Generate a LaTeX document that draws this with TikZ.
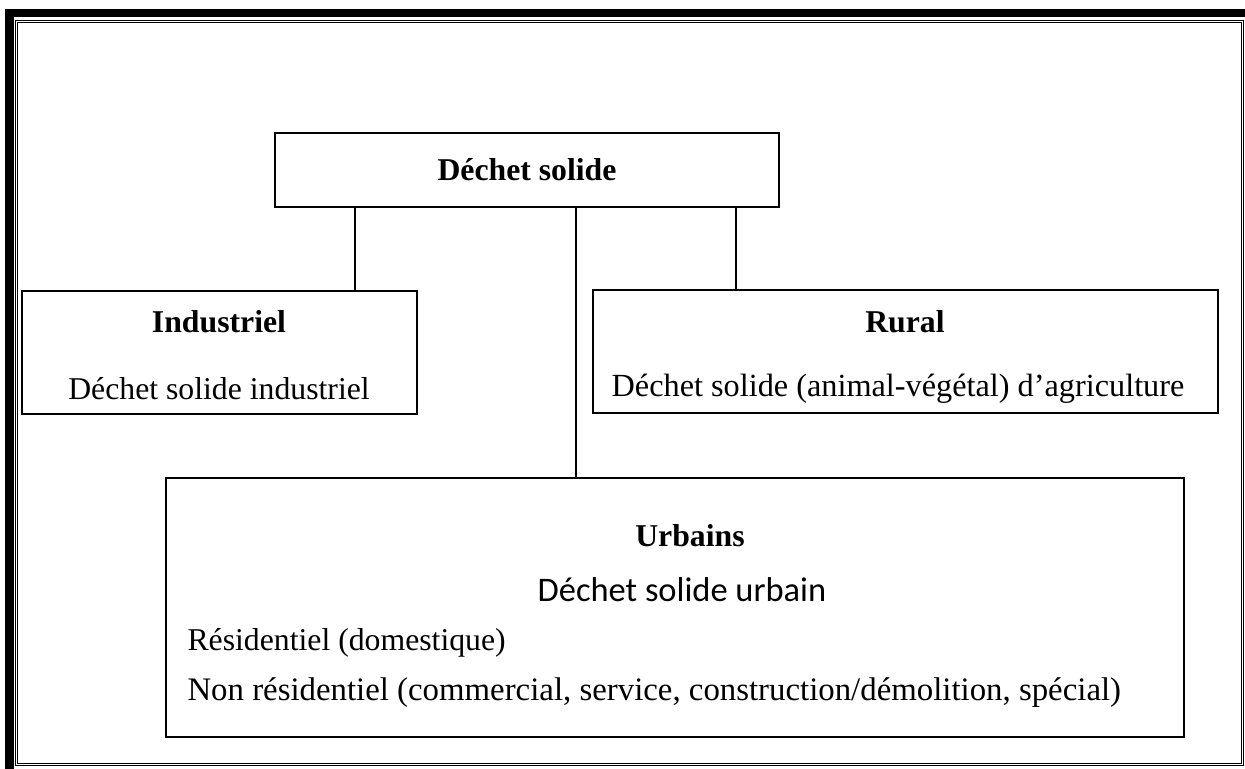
\documentclass[tikz,border=0pt]{standalone}
\usepackage{fontspec}
\setmainfont{Liberation Serif}
\newfontfamily\calib{Carlito}
\tikzset{
  box/.style={draw, line width=0.6pt, inner sep=0pt},
  txt/.style={inner sep=0pt, font=\fontsize{11.6}{14}\selectfont}
}

\begin{document}
\begin{tikzpicture}[x=0.01285cm, y=-0.01285cm]

\useasboundingbox (0,0) rectangle (1245,769);

% page frame
\fill (5,9) rectangle (14,769);
\fill (5,9) rectangle (1245,17);
\draw[line width=0.4pt, double, double distance=0.45pt] (16.5,21.7) rectangle (1242.5,764.5);

% boxes
\node[box, minimum width=6.476cm, minimum height=0.951cm] (ds) at (527,170) {};
\node[box, minimum width=5.076cm, minimum height=1.581cm] (ind) at (219.5,352.5) {};
\node[box, minimum width=8.031cm, minimum height=1.581cm] (rur) at (905.5,351.5) {};
\node[box, minimum width=13.081cm, minimum height=3.328cm] (urb) at (675,607.5) {};

% texts
\node[txt] (ds1) at (527,170) {\textbf{Déchet solide}};
\node[txt] (ind1) at (219,322) {\textbf{Industriel}};
\node[txt] (ind2) at (219,389) {Déchet solide industriel};
\node[txt] (rur1) at (905,322) {\textbf{Rural}};
\node[txt, font=\fontsize{11.8}{14}\selectfont] (rur2) at (898,389) {Déchet solide (animal-végétal) d’agriculture};
\node[txt] (urb1) at (690,536) {\textbf{Urbains}};
\node[txt, font=\fontsize{12.6}{14}\calib] (urb2) at (682,590) {Déchet solide urbain};
\node[txt, anchor=west] (urb3) at (187,643) {Résidentiel (domestique)};
\node[txt, anchor=west, font=\fontsize{12}{14}\selectfont] (urb4) at (187,693) {Non résidentiel (commercial, service, construction/démolition, spécial)};

% connectors
\coordinate (k1) at (355,0);
\coordinate (k2) at (576,0);
\coordinate (k3) at (736,0);
\draw[line width=0.6pt] (ds.south -| k1) -- (ind.north -| k1);
\draw[line width=0.6pt] (ds.south -| k2) -- (urb.north -| k2);
\draw[line width=0.6pt] (ds.south -| k3) -- (rur.north -| k3);

\end{tikzpicture}
\end{document}
